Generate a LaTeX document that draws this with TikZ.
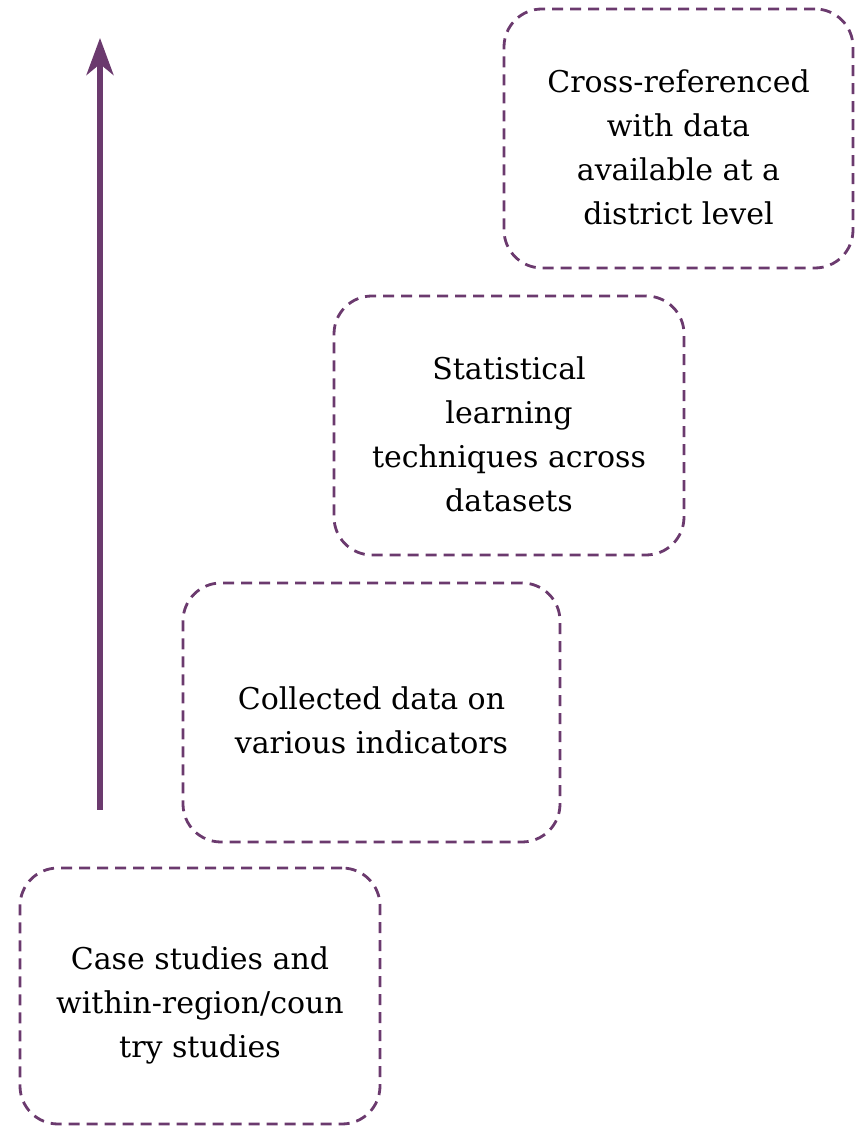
\documentclass[tikz,border=0pt]{standalone}
\usepackage{fontspec}
\setmainfont{DejaVu Serif}
\usepackage{tikz}
\usetikzlibrary{arrows.meta}

\definecolor{plum}{HTML}{6B3A6E}

\tikzset{
  stagebox/.style={draw=plum, line width=2.8pt, dash pattern=on 11pt off 7pt,
    rounded corners=38pt, inner sep=0pt},
  stagetext/.style={align=center, inner sep=0pt,
    font=\fontsize{30}{44}\selectfont},
}

\begin{document}
\begin{tikzpicture}[x=1pt,y=1pt]
        \useasboundingbox (0,0) rectangle (859,1127);
        % the four stages, bottom to top
        \node[stagebox, minimum width=360pt, minimum height=256pt] (cases) at (200,131) {};
        \node[stagebox, minimum width=377pt, minimum height=259pt] (collected) at (371.5,414.5) {};
        \node[stagebox, minimum width=350pt, minimum height=259pt] (learning) at (509,701.5) {};
        \node[stagebox, minimum width=349pt, minimum height=259pt] (crossref) at (678.5,988.5) {};
        \node[stagetext] (casestext) at ([yshift=-9pt]cases.center) {Case studies and\\within-region/coun\\try studies};
        \node[stagetext] (collectedtext) at ([yshift=-8pt]collected.center) {Collected data on\\various indicators};
        \node[stagetext] (learningtext) at ([yshift=-9pt]learning.center) {Statistical\\learning\\techniques across\\datasets};
        \node[stagetext] (crossreftext) at ([yshift=-9pt]crossref.center) {Cross-referenced\\with data\\available at a\\district level};
        \coordinate (arrowfoot) at (100,317);
        \coordinate (arrowtip) at (100,1089);
        \draw[plum, line width=5.5pt, -{Stealth[length=37pt,width=27pt,inset=11pt]}] (arrowfoot) -- (arrowtip);
    \end{tikzpicture}
\end{document}
